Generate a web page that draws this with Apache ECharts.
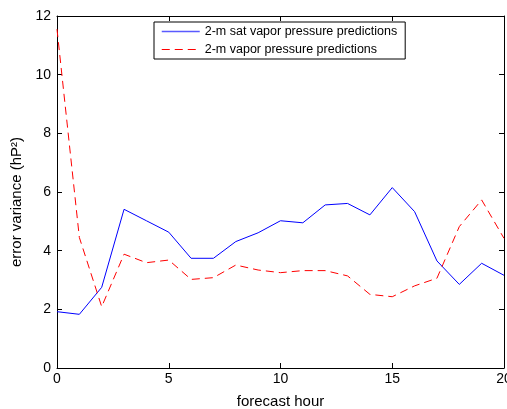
<!DOCTYPE html>
<html>
<head>
<meta charset="utf-8">
<script src="https://cdn.jsdelivr.net/npm/echarts@6/dist/echarts.min.js"></script>
<style>
  html, body { margin: 0; padding: 0; background: #fff; overflow: hidden; }
  #chart { width: 507px; height: 409px; }
</style>
</head>
<body>
<div id="chart"></div>
<script>
// forecast hours 0..20
const hours = [0,1,2,3,4,5,6,7,8,9,10,11,12,13,14,15,16,17,18,19,20];
// error variance of 2-m saturation vapor pressure predictions
const satVapor = [1.92,1.83,2.75,5.41,5.02,4.63,3.74,3.74,4.31,4.61,5.02,4.95,5.56,5.61,5.22,6.15,5.33,3.65,2.85,3.57,3.16];
// error variance of 2-m vapor pressure predictions
const vapor = [11.55,4.45,2.09,3.88,3.59,3.68,3.02,3.08,3.51,3.34,3.25,3.32,3.32,3.14,2.51,2.43,2.80,3.06,4.82,5.73,4.42];
const seriesNames = ['2-m sat vapor pressure predictions', '2-m vapor pressure predictions'];

const font = 'Liberation Sans, Arial, sans-serif';
const blue = '#0000ff';
const red = '#ff0000';
const chart = echarts.init(document.getElementById('chart'), null, { width: 507, height: 409 });

const boxAxisLine = { show: true, onZero: false, lineStyle: { color: '#000', width: 1 } };
const innerTick = { show: true, inside: true, length: 5, lineStyle: { color: '#000' } };

// bottom/left axes carry labels; top/right mirror them as a closed box
chart.setOption({
  animation: false,
  backgroundColor: '#fff',
  grid: {
    left: 57, top: 16, width: 447, height: 352,
    containLabel: false, outerBoundsMode: 'none'
  },
  legend: {
    left: 154, top: 22,
    orient: 'vertical',
    itemWidth: 38, itemHeight: 10, itemGap: 5,
    padding: [3, 8, 3, 7],
    backgroundColor: '#fff',
    borderColor: '#000', borderWidth: 1, borderRadius: 0,
    itemStyle: { opacity: 0 },
    textStyle: { fontFamily: font, fontSize: 12.5, color: '#000' },
    data: [
      { name: seriesNames[0], lineStyle: { color: '#5a5aff', width: 1.5 } },
      { name: seriesNames[1], lineStyle: { color: red, width: 1, type: [8, 5] } }
    ]
  },
  xAxis: [{
    type: 'value', min: 0, max: 20, interval: 5, position: 'bottom',
    name: 'forecast hour', nameLocation: 'middle', nameGap: 26,
    nameTextStyle: { fontFamily: font, fontSize: 15, color: '#000' },
    axisLine: boxAxisLine, axisTick: innerTick,
    axisLabel: { fontFamily: font, fontSize: 14, color: '#000', margin: 4 },
    splitLine: { show: false }
  }, {
    type: 'value', min: 0, max: 20, interval: 5, position: 'top',
    axisLine: boxAxisLine, axisTick: innerTick,
    axisLabel: { show: false }, splitLine: { show: false }
  }],
  yAxis: [{
    type: 'value', min: 0, max: 12, interval: 2, position: 'left',
    name: 'error variance (hP²)', nameLocation: 'middle', nameGap: 24, nameRotate: 90,
    nameTextStyle: { fontFamily: font, fontSize: 15, color: '#000', padding: [0, 20, 0, 0] },
    axisLine: boxAxisLine, axisTick: innerTick,
    axisLabel: { fontFamily: font, fontSize: 14, color: '#000', margin: 6 },
    splitLine: { show: false }
  }, {
    type: 'value', min: 0, max: 12, interval: 2, position: 'right',
    axisLine: boxAxisLine, axisTick: innerTick,
    axisLabel: { show: false }, splitLine: { show: false }
  }],
  series: [{
    name: seriesNames[0], type: 'line',
    xAxisIndex: 0, yAxisIndex: 0,
    data: hours.map((h, i) => [h, satVapor[i]]),
    symbol: 'none', lineStyle: { color: blue, width: 1 },
    itemStyle: { color: blue }
  }, {
    name: seriesNames[1], type: 'line',
    xAxisIndex: 1, yAxisIndex: 1,
    data: hours.map((h, i) => [h, vapor[i]]),
    symbol: 'none', lineStyle: { color: red, width: 1, type: [8, 5] },
    itemStyle: { color: red }
  }]
});
</script>
</body>
</html>
